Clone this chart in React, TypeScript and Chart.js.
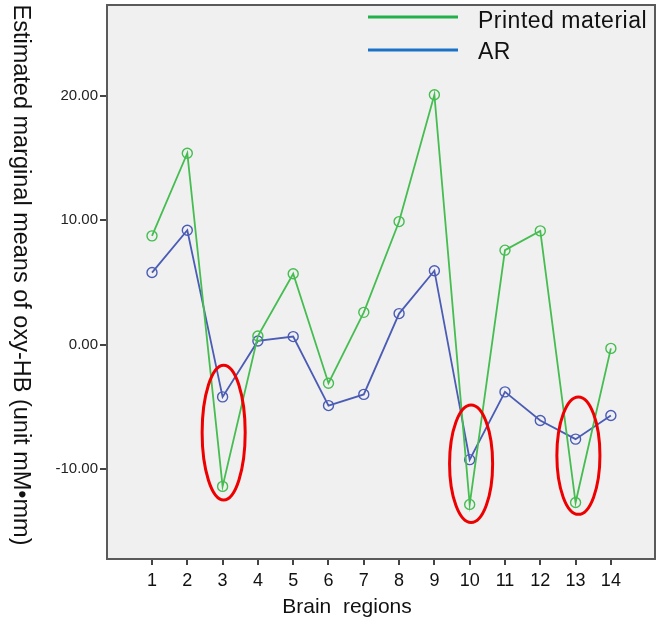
import React, { useEffect, useRef } from "react";
import { Chart, registerables } from "chart.js";

Chart.register(...registerables);

const REGIONS = [1, 2, 3, 4, 5, 6, 7, 8, 9, 10, 11, 12, 13, 14];
const PRINTED = [8.75, 15.4, -11.4, 0.7, 5.7, -3.1, 2.6, 9.9, 20.1, -12.85, 7.6, 9.15, -12.7, -0.3];
const AR = [5.8, 9.2, -4.2, 0.3, 0.65, -4.9, -4.0, 2.5, 5.95, -9.25, -3.8, -6.1, -7.6, -5.7];
const Y_TICKS = [-10, 0, 10, 20];
const SERIES_LABELS = ["Printed material", "AR"];
const X_TITLE = "Brain  regions";
const Y_TITLE = "Estimated marginal means of oxy-HB (unit mM\u2022mm)";
// highlighted regions: x, y top, y bottom
const HIGHLIGHTS = [
  { x: 3.03, top: -1.65, bottom: -12.5 },
  { x: 10.04, top: -4.85, bottom: -14.3 },
  { x: 13.08, top: -4.2, bottom: -13.65 },
];

const LINE_GREEN = "#45bd50";
const LINE_BLUE = "#4b5cb5";
const LEG_GREEN = "#22b04b";
const LEG_BLUE = "#1a72c8";
const FONT = "'Liberation Sans', Arial, sans-serif";

const framePlugin = {
  id: "frame",
  beforeDraw(chart: any) {
    const { ctx, chartArea: a, width, height } = chart;
    ctx.save();
    ctx.fillStyle = "#ffffff";
    ctx.fillRect(0, 0, width, height);
    ctx.fillStyle = "#f0f0f0";
    ctx.fillRect(a.left, a.top, a.right - a.left, a.bottom - a.top);
    ctx.restore();
  },
  beforeDatasetsDraw(chart: any) {
    const { ctx, chartArea: a } = chart;
    ctx.save();
    ctx.strokeStyle = "#5a5a5a";
    ctx.lineWidth = 2;
    ctx.strokeRect(a.left, a.top, a.right - a.left, a.bottom - a.top);
    ctx.restore();
  },
  afterDraw(chart: any) {
    const { ctx, chartArea: a, scales } = chart;
    const xs = scales.x;
    const ys = scales.y;
    ctx.save();
    // legend
    const legColors = [LEG_GREEN, LEG_BLUE];
    const legY = [a.top + 12, a.top + 45];
    ctx.font = "23px " + FONT;
    (ctx as any).letterSpacing = "0.5px";
    ctx.textBaseline = "middle";
    ctx.textAlign = "left";
    chart.data.datasets.forEach((ds: any, i: number) => {
      ctx.strokeStyle = legColors[i];
      ctx.lineWidth = 3;
      ctx.beginPath();
      ctx.moveTo(368, legY[i]);
      ctx.lineTo(458, legY[i]);
      ctx.stroke();
      ctx.fillStyle = "#111";
      ctx.fillText(ds.label, 478, legY[i] + 5 - i * 2);
    });
    (ctx as any).letterSpacing = "0px";
    // ellipses
    ctx.strokeStyle = "#ee0000";
    ctx.lineWidth = 3;
    HIGHLIGHTS.forEach((h) => {
      const cx = xs.getPixelForValue(h.x);
      const t = ys.getPixelForValue(h.top);
      const b = ys.getPixelForValue(h.bottom);
      const rx = xs.getPixelForValue(h.x + 0.61) - cx;
      ctx.beginPath();
      ctx.ellipse(cx, (t + b) / 2, rx, (b - t) / 2, 0, 0, Math.PI * 2);
      ctx.stroke();
    });
    // axis titles
    ctx.fillStyle = "#111";
    ctx.font = "21px " + FONT;
    ctx.textAlign = "center";
    ctx.textBaseline = "middle";
    ctx.fillText(X_TITLE, 347, 607);
    ctx.translate(20, 275);
    ctx.rotate(Math.PI / 2);
    ctx.font = "23.5px " + FONT;
    ctx.fillText(Y_TITLE, 0, 0);
    ctx.restore();
  },
};

export default function App() {
  const ref = useRef<HTMLCanvasElement>(null);
  useEffect(() => {
    if (!ref.current) return;
    const chart = new Chart(ref.current, {
      type: "line",
      data: {
        datasets: [
          {
            label: SERIES_LABELS[0],
            data: REGIONS.map((r, i) => ({ x: r, y: PRINTED[i] })),
            borderColor: LINE_GREEN,
            backgroundColor: "transparent",
            pointBorderColor: LINE_GREEN,
            pointBackgroundColor: "transparent",
            borderWidth: 1.8,
            pointRadius: 5,
            pointBorderWidth: 1.4,
            tension: 0,
          },
          {
            label: SERIES_LABELS[1],
            data: REGIONS.map((r, i) => ({ x: r, y: AR[i] })),
            borderColor: LINE_BLUE,
            backgroundColor: "transparent",
            pointBorderColor: LINE_BLUE,
            pointBackgroundColor: "transparent",
            borderWidth: 1.8,
            pointRadius: 5,
            pointBorderWidth: 1.4,
            tension: 0,
          },
        ],
      },
      options: {
        animation: false,
        responsive: true,
        maintainAspectRatio: false,
        layout: { autoPadding: false, padding: { top: 5, right: 2, left: 0, bottom: 0 } },
        plugins: { legend: { display: false }, tooltip: { enabled: false } },
        scales: {
          x: {
            type: "linear",
            min: -0.275,
            max: 15.25,
            afterBuildTicks: (s: any) => {
              s.ticks = REGIONS.map((v) => ({ value: v }));
            },
            afterFit: (s: any) => {
              s.height = 64;
              s.paddingLeft = 0;
              s.paddingRight = 0;
            },
            border: { display: false },
            grid: {
              display: true,
              drawOnChartArea: false,
              drawTicks: true,
              tickLength: 6,
              color: "#444",
              lineWidth: 2,
            },
            ticks: {
              autoSkip: false,
              maxRotation: 0,
              padding: 5,
              color: "#111",
              font: { family: FONT, size: 18 },
              callback: (v: any) => String(v),
            },
          },
          y: {
            type: "linear",
            min: -17.24,
            max: 27.32,
            afterBuildTicks: (s: any) => {
              s.ticks = Y_TICKS.map((v) => ({ value: v }));
            },
            afterFit: (s: any) => {
              s.width = 107;
              s.paddingTop = 0;
              s.paddingBottom = 0;
            },
            border: { display: false },
            grid: {
              display: true,
              drawOnChartArea: false,
              drawTicks: true,
              tickLength: 7,
              color: "#444",
              lineWidth: 2,
            },
            ticks: {
              padding: 2,
              color: "#222",
              font: { family: FONT, size: 15 },
              callback: (v: any) => Number(v).toFixed(2),
            },
          },
        },
      },
      plugins: [framePlugin],
    } as any);
    return () => chart.destroy();
  }, []);
  return (
    <div style={{ position: "fixed", left: 0, top: 0, width: 657, height: 623, background: "#fff" }}>
      <canvas ref={ref} />
    </div>
  );
}
